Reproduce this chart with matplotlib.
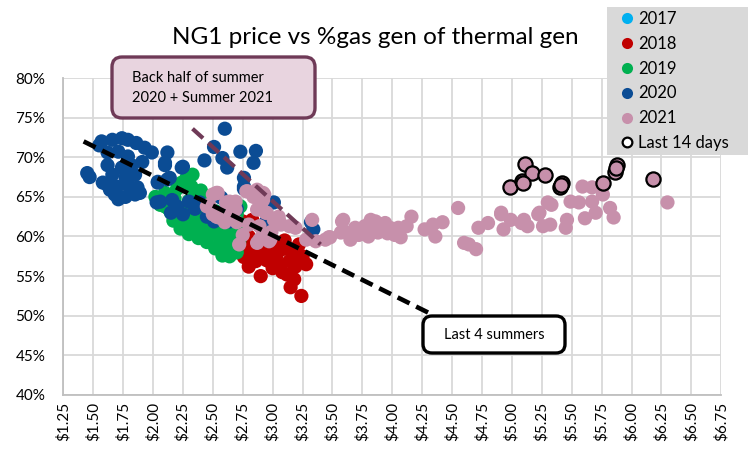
import matplotlib
matplotlib.use("Agg")
import matplotlib.pyplot as plt
from matplotlib.patches import FancyBboxPatch, Rectangle
from matplotlib.lines import Line2D
from matplotlib.transforms import IdentityTransform
from matplotlib.ticker import FuncFormatter
import numpy as np

plt.rcParams['font.family'] = ['Lato', 'DejaVu Sans']

# 2017 has no visible points, only the legend entry
x17 = []
y17 = []

x18 = [2.75, 2.83, 2.75, 2.79, 2.76, 2.86, 2.90, 2.94, 2.99, 2.91, 2.84, 3.08, 3.16, 3.22,
       3.14, 3.19, 3.28, 3.12, 3.18, 3.15, 3.24, 3.05, 3.08, 2.80, 2.97, 2.74, 3.03,
       2.80, 2.88, 2.95, 3.00, 3.10, 3.20, 2.82, 3.02, 3.25, 2.93]
y18 = [61.9, 62.1, 60.0, 58.6, 57.4, 56.9, 55.0, 58.1, 58.4, 59.6, 59.2, 58.4, 58.1, 59.0,
       56.9, 56.2, 56.5, 55.2, 54.6, 53.6, 52.5, 56.5, 55.5, 56.2, 56.9, 58.8, 57.5,
       60.0, 57.8, 57.0, 56.0, 59.5, 57.8, 57.5, 59.0, 57.5, 60.5]

x19 = [2.02, 2.06, 2.10, 2.13, 2.18, 2.20, 2.24, 2.28, 2.32, 2.35, 2.20, 2.25, 2.30, 2.33,
       2.38, 2.40, 2.43, 2.45, 2.48, 2.50, 2.52, 2.55, 2.57, 2.60, 2.62, 2.65, 2.67, 2.70,
       2.72, 2.74, 2.60, 2.55, 2.42, 2.35, 2.28, 2.15, 2.65, 2.70, 2.73, 2.48, 2.40, 2.30,
       2.22, 2.52, 2.62, 2.33, 2.10, 2.17, 2.23, 2.30, 2.38, 2.45, 2.52, 2.58, 2.64, 2.70,
       2.47, 2.57, 2.36, 2.44, 2.68]
y19 = [65.0, 64.0, 65.5, 63.5, 64.8, 66.0, 66.8, 67.4, 66.3, 65.2, 62.5, 61.8, 63.2, 61.5,
       62.8, 64.0, 61.0, 63.5, 60.5, 62.3, 61.0, 60.0, 62.0, 59.2, 61.0, 60.0, 58.5, 60.5,
       59.3, 61.5, 58.0, 58.8, 60.0, 60.5, 62.0, 63.0, 62.3, 62.8, 63.8, 64.8, 65.8, 64.5,
       63.5, 63.2, 63.0, 67.8, 63.8, 62.0, 61.0, 60.3, 59.8, 59.3, 58.5, 57.6, 57.5, 58.0,
       62.0, 61.0, 61.8, 62.6, 61.8]

x20 = [1.47, 1.45, 1.57, 1.66, 1.74, 1.79, 1.86, 1.93, 1.99, 1.62, 1.71, 1.79, 1.91, 1.62,
       1.74, 1.66, 1.77, 1.85, 1.62, 1.70, 1.79, 1.87, 1.68, 1.77, 1.85, 1.71, 1.58, 1.64,
       1.55, 1.82, 2.12, 2.10, 2.24, 2.04, 2.12, 2.03, 2.10, 2.04, 2.14, 1.89, 2.06, 2.16,
       2.15, 2.25, 2.30, 2.39, 2.51, 2.58, 2.64, 2.57, 2.20, 2.35, 2.45, 2.60, 2.51, 2.43,
       2.58, 2.62, 2.73, 2.86, 2.84, 2.76, 2.76, 2.25, 2.76, 3.01, 3.32, 3.34, 2.70, 2.95]
y20 = [67.5, 68.0, 72.0, 72.2, 72.4, 72.2, 71.8, 71.2, 70.6, 70.6, 70.7, 70.1, 69.4, 69.0,
       68.7, 67.8, 67.5, 67.8, 66.5, 66.3, 66.5, 66.2, 65.3, 65.0, 65.3, 64.7, 66.8, 65.9,
       71.5, 69.0, 70.6, 69.3, 68.7, 66.9, 67.2, 64.3, 69.0, 66.8, 67.4, 65.5, 64.4, 64.6,
       63.0, 62.8, 64.4, 64.3, 61.9, 63.0, 61.9, 64.9, 63.8, 63.5, 62.5, 73.6, 71.3, 69.6,
       69.9, 68.7, 70.7, 70.8, 69.3, 67.4, 66.0, 68.8, 66.3, 64.3, 61.8, 60.9, 63.5, 62.0]

x21 = [2.53, 2.47, 2.53, 2.61, 2.69, 2.65, 2.70, 2.50, 2.45, 2.64, 2.60, 2.69, 2.84, 2.92,
       2.87, 2.95, 2.89, 2.98, 3.06, 2.79, 2.92, 2.78, 2.54, 2.50, 2.55, 2.89, 3.05, 2.87,
       3.01, 3.07, 3.14, 2.99, 2.91, 2.97, 3.19, 2.94, 2.68, 2.87, 2.93, 2.80, 2.75, 2.72,
       3.28, 3.36, 3.47, 3.58, 3.62, 3.33, 3.44, 3.48, 3.59, 3.57, 3.65, 3.69, 3.77, 3.82,
       3.86, 3.90, 3.94, 3.98, 4.02, 4.07, 4.05, 4.12, 4.16, 3.80, 3.88, 4.27, 4.34, 4.36,
       3.72, 3.84, 3.96, 4.55, 4.60, 4.70, 4.64, 4.72, 4.80, 4.91, 4.93, 4.99, 5.08, 5.23,
       5.26, 5.30, 4.91, 5.10, 5.13, 5.22, 5.32, 5.33, 5.46, 5.45, 5.49, 5.56, 5.59, 5.61,
       5.67, 5.67, 5.70, 5.76, 5.82, 5.85, 6.30, 4.42]
y21 = [65.5, 64.0, 62.5, 64.3, 64.4, 62.8, 61.8, 65.3, 63.8, 64.4, 61.8, 63.4, 65.0, 64.6,
       63.4, 63.0, 59.6, 59.6, 61.8, 65.7, 65.5, 65.7, 65.5, 62.8, 62.4, 61.3, 62.5, 59.2,
       62.1, 61.5, 61.3, 60.6, 60.0, 59.4, 61.1, 63.0, 64.3, 65.9, 65.3, 61.5, 60.2, 59.0,
       59.6, 59.4, 59.9, 61.9, 60.5, 62.1, 59.6, 59.9, 62.1, 60.5, 59.6, 61.1, 61.3, 62.1,
       61.9, 61.1, 61.7, 61.1, 60.2, 59.9, 61.1, 61.3, 62.5, 60.0, 60.5, 60.9, 61.5, 60.0,
       60.2, 60.8, 60.4, 63.6, 59.2, 58.4, 59.0, 61.1, 61.7, 63.0, 60.9, 62.1, 61.7, 63.0,
       61.3, 64.3, 62.8, 62.1, 61.3, 62.8, 61.5, 64.0, 62.1, 61.1, 64.4, 64.3, 66.3, 62.3,
       66.2, 64.4, 63.0, 65.3, 63.6, 62.4, 64.3, 61.8]

# last 14 days
x14 = [4.98, 5.08, 5.11, 5.17, 5.28, 5.40, 5.42, 5.76, 5.86, 5.88, 6.18, 5.41, 5.87, 5.09]
y14 = [66.2, 67.0, 69.2, 68.0, 67.7, 66.2, 66.7, 66.7, 68.2, 69.0, 67.3, 66.5, 68.6, 66.8]

# trend lines drawn on the chart
trend_all_x = [1.42, 4.30]
trend_all_y = [72.0, 50.4]
trend_back_x = [2.33, 3.40]
trend_back_y = [73.6, 59.0]

years = ['2017', '2018', '2019', '2020', '2021']
colors = ['#00B0F0', '#C00000', '#00B050', '#0B4C94', '#C790AB']
xs = [x17, x18, x19, x20, x21]
ys = [y17, y18, y19, y20, y21]

xticks = np.arange(1.25, 6.76, 0.25)
yticks = np.arange(40, 81, 5)

fig = plt.figure(figsize=(7.48, 4.5), dpi=100)
ax = fig.add_axes([63.3 / 748, 55 / 450, 658 / 748, 317 / 450])

for xv, yv, c in zip(xs, ys, colors):
    ax.scatter(xv, yv, s=105, color=c, edgecolors='none', zorder=3)
ax.scatter(x14, y14, s=105, color=colors[4], edgecolors='black', linewidths=1.6, zorder=4)

ax.plot(trend_all_x, trend_all_y, color='black', lw=3.3, linestyle=(0, (2.9, 1.6)),
        solid_capstyle='butt', zorder=5)
ax.plot(trend_back_x, trend_back_y, color='#6F3A57', lw=3.0, linestyle=(0, (3.4, 1.7)),
        zorder=5)

ax.set_xlim(1.25, 6.75)
ax.set_ylim(40, 80)
ax.set_xticks(xticks)
ax.set_yticks(yticks)
ax.xaxis.set_major_formatter(FuncFormatter(lambda v, p: "${:.2f}".format(v)))
ax.yaxis.set_major_formatter(FuncFormatter(lambda v, p: "{:.0f}%".format(v)))
ax.tick_params(axis='x', length=0, pad=5, labelsize=11, labelrotation=90, colors='#000000')
ax.tick_params(axis='y', length=0, pad=13, labelsize=11, colors='#000000')
ax.grid(True, color='#D9D9D9', lw=1.3, zorder=0)
ax.set_axisbelow(True)
for side in ['top', 'right']:
    ax.spines[side].set_visible(False)
for side in ['left', 'bottom']:
    ax.spines[side].set_color('#BFBFBF')
    ax.spines[side].set_linewidth(1.3)

fig.text(375 / 748, 1 - 37 / 450, "NG1 price vs %gas gen of thermal gen", fontsize=17.5,
         ha='center', va='center')

# callout boxes (pixel coords, origin bottom-left)
b1 = FancyBboxPatch((112, 450 - 118), 203, 61, boxstyle="round,pad=0,rounding_size=10",
                    transform=IdentityTransform(), facecolor='#E8D4DF', edgecolor='#6F3A57',
                    lw=2.4, zorder=10)
fig.patches.append(b1)
fig.text(132 / 748, 1 - 88 / 450, "Back half of summer\n2020 + Summer 2021", fontsize=10.5,
         ha='left', va='center', linespacing=1.5, zorder=11)

b2 = FancyBboxPatch((423, 450 - 353), 142, 37, boxstyle="round,pad=0,rounding_size=9",
                    transform=IdentityTransform(), facecolor='white', edgecolor='black',
                    lw=2.4, zorder=10)
fig.patches.append(b2)
fig.text(494 / 748, 1 - 335 / 450, "Last 4 summers", fontsize=10.5, ha='center',
         va='center', zorder=11)

# legend with grey background
bg = Rectangle((607, 450 - 155), 141, 148, transform=IdentityTransform(),
               facecolor='#D9D9D9', edgecolor='none', zorder=10)
fig.patches.append(bg)
handles = [Line2D([], [], marker='o', ls='none', markersize=8, color=c, markeredgecolor='none')
           for c in colors]
handles.append(Line2D([], [], marker='o', ls='none', markersize=7, markerfacecolor='white',
                      markeredgecolor='black', markeredgewidth=1.6))
leg = fig.legend(handles, years + ['Last 14 days'], loc='upper left',
                 bbox_to_anchor=(617 / 748, 1 - 11 / 450), frameon=False, fontsize=12,
                 handletextpad=0.05, handlelength=1.2, labelspacing=0.53, borderpad=0,
                 borderaxespad=0)
leg.set_zorder(12)

fig.savefig("out.png", dpi=100)
